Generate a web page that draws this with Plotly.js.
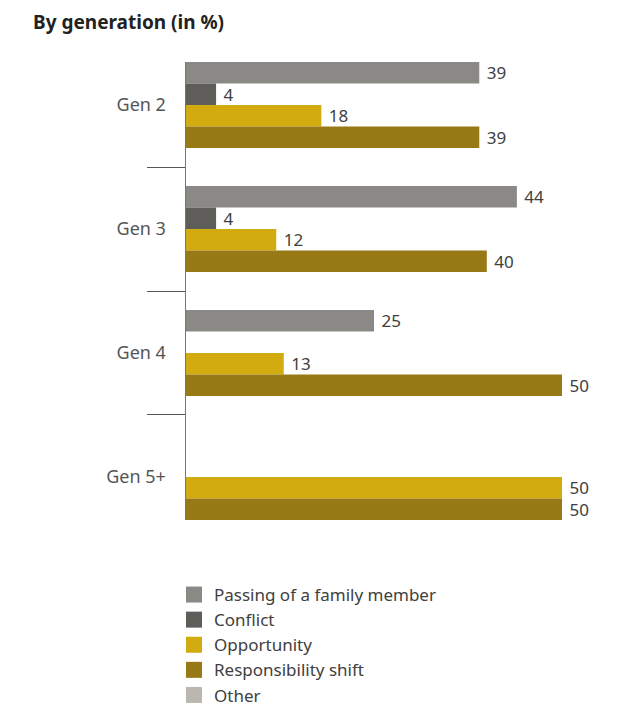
<!DOCTYPE html>
<html>
<head>
<meta charset="utf-8">
<script src="https://cdn.plot.ly/plotly-3.0.1.min.js"></script>
<style>html,body{margin:0;padding:0;background:#fff;}#chart{width:617px;height:706px;}</style>
</head>
<body>
<div id="chart"></div>
<script>
const categories = ["Gen 2", "Gen 3", "Gen 4", "Gen 5+"];
const seriesNames = ["Passing of a family member", "Conflict", "Opportunity", "Responsibility shift", "Other"];
const passing = [39, 44, 25, null];
const conflict = [4, 4, null, null];
const opportunity = [18, 12, 13, 50];
const responsibility = [39, 40, 50, 50];
const other = [null, null, null, null];
const colors = ["#8a8985", "#5f5d5a", "#d2ab10", "#977915", "#b9b7ae"];

const FONT = "Noto Sans, Open Sans, sans-serif";
const barSeries = [passing, conflict, opportunity, responsibility];

const traces = [];
barSeries.forEach((vals, i) => {
  traces.push({
    type: "bar", orientation: "h",
    y: categories, x: vals,
    name: seriesNames[i],
    marker: {color: colors[i], line: {width: 0}},
    texttemplate: "\u00a0%{x}",
    textposition: "outside",
    cliponaxis: false,
    constraintext: "none",
    textfont: {family: FONT, size: 17, color: "#404040"},
    showlegend: false,
    hoverinfo: "skip"
  });
});
// legend entries
seriesNames.forEach((nm, i) => {
  traces.push({
    type: "scatter", mode: "markers",
    x: [null], y: [null],
    name: nm,
    marker: {symbol: "square", size: 16, color: colors[i]},
    showlegend: true,
    hoverinfo: "skip"
  });
});

const layout = {
  width: 617, height: 706,
  paper_bgcolor: "#fff", plot_bgcolor: "#fff",
  margin: {l: 186, r: 55, t: 62, b: 186, autoexpand: false},
  barmode: "group",
  bargap: 0.306,
  bargroupgap: 0,
  title: {
    text: "<b>By generation (in %)</b>",
    font: {family: FONT, size: 19, color: "#222"},
    x: 33/617, xanchor: "left", xref: "container",
    y: 1 - 22/706, yanchor: "middle", yref: "container"
  },
  xaxis: {range: [0, 50], visible: false, fixedrange: true, automargin: false},
  yaxis: {
    type: "category",
    categoryorder: "array", categoryarray: categories,
    range: [3.347, -0.347],
    automargin: false,
    showline: true, linecolor: "#777", linewidth: 1.5,
    ticks: "outside", tickson: "boundaries", ticklen: 38, tickcolor: "#555", tickwidth: 1,
    ticklabelstandoff: 15,
    showgrid: false, zeroline: false,
    tickfont: {family: FONT, size: 18, color: "#555"},
    fixedrange: true
  },
  showlegend: true,
  legend: {
    xref: "container", yref: "container",
    x: 174/617, y: 1 - 577/706, xanchor: "left", yanchor: "top",
    orientation: "v",
    font: {family: FONT, size: 17, color: "#404040"},
    bgcolor: "rgba(0,0,0,0)",
    tracegroupgap: 0
  }
};

Plotly.newPlot("chart", traces, layout, {displayModeBar: false, staticPlot: true});
</script>
</body>
</html>
